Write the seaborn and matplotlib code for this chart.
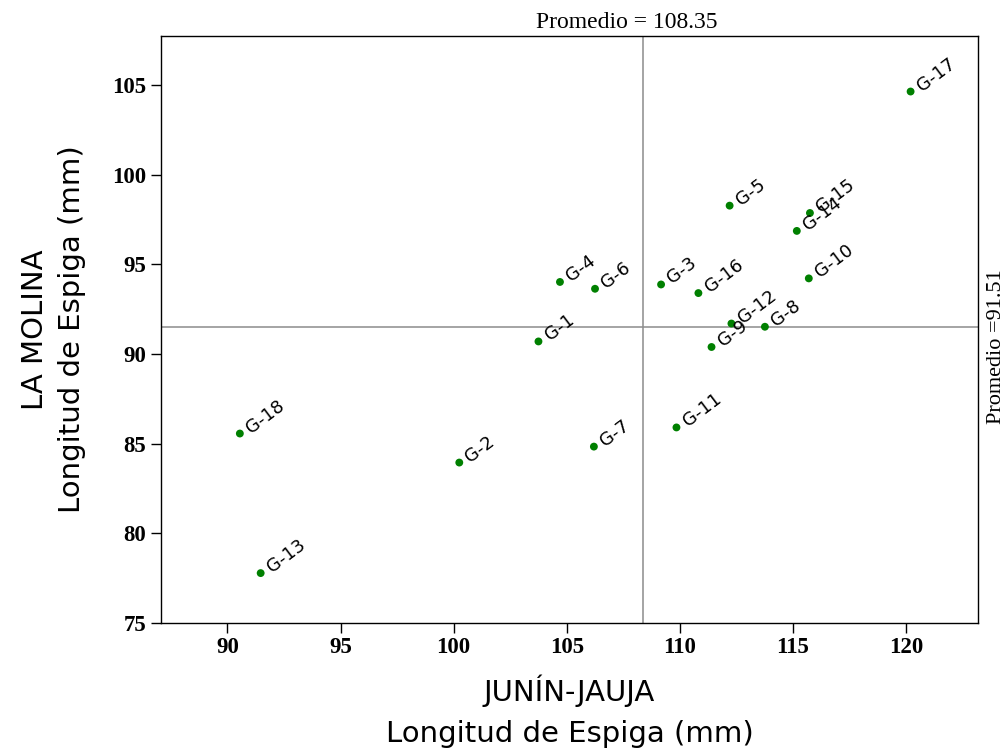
import matplotlib
matplotlib.use("Agg")
import matplotlib.pyplot as plt
import seaborn as sns
import pandas as pd

# Genotype spike length (mm) in two locations
genotipos = ["G-1", "G-2", "G-3", "G-4", "G-5", "G-6", "G-7", "G-8", "G-9",
             "G-10", "G-11", "G-12", "G-13", "G-14", "G-15", "G-16", "G-17", "G-18"]
junin_jauja = [103.75, 100.25, 109.17, 104.70, 112.20, 106.25, 106.20, 113.76, 111.40,
               115.70, 109.85, 112.28, 91.47, 115.17, 115.75, 110.82, 120.20, 90.55]
la_molina = [90.70, 83.94, 93.88, 94.02, 98.28, 93.64, 84.83, 91.52, 90.39,
             94.22, 85.90, 91.70, 77.77, 96.87, 97.87, 93.40, 104.65, 85.56]

promedio_x = 108.35
promedio_y = 91.51

x_ticks = [90, 95, 100, 105, 110, 115, 120]
y_ticks = [75, 80, 85, 90, 95, 100, 105]

df = pd.DataFrame({"gen": genotipos, "x": junin_jauja, "y": la_molina})

sns.set_theme(style="ticks")
plt.rcParams["font.family"] = ["DejaVu Sans"]

fig = plt.figure(figsize=(10.08, 7.56), dpi=100)
ax = fig.add_axes([0.1594, 0.1763, 0.9707 - 0.1594, 0.9524 - 0.1763])

sns.scatterplot(data=df, x="x", y="y", ax=ax, color="#008000", s=32,
                edgecolor="none", zorder=3, legend=False)

for g, xv, yv in zip(df["gen"], df["x"], df["y"]):
    ax.annotate(g, (xv, yv), xytext=(8, 0), textcoords="offset points",
                rotation=37, rotation_mode="anchor", ha="left", va="baseline",
                fontsize=13, color="black", family="DejaVu Sans")

ax.axvline(promedio_x, color="#8c8c8c", lw=1.1, zorder=1)
ax.axhline(promedio_y, color="#8c8c8c", lw=1.1, zorder=1)

ax.set_xlim(87.05, 123.2)
ax.set_ylim(75, 107.75)
ax.set_xticks(x_ticks)
ax.set_yticks(y_ticks)

serif = ["Liberation Serif", "DejaVu Serif"]
ax.set_xticklabels([str(t) for t in x_ticks], family=serif, fontweight="bold", fontsize=16.5)
ax.set_yticklabels([str(t) for t in y_ticks], family=serif, fontweight="bold", fontsize=16.5)
ax.tick_params(axis="both", direction="out", length=7.5, width=1, color="black",
               labelcolor="black", pad=3)

for sp in ax.spines.values():
    sp.set_color("black")
    sp.set_linewidth(1)

ax.set_xlabel("JUNÍN-JAUJA\nLongitud de Espiga (mm)", fontsize=21, labelpad=12,
              linespacing=1.55, color="black")
ax.set_ylabel("LA MOLINA\nLongitud de Espiga (mm)", fontsize=21, labelpad=19,
              linespacing=1.4, color="black")

ax.annotate(f"Promedio = {promedio_x:.2f}", (promedio_x, 1.0), xycoords=ax.get_xaxis_transform(),
            xytext=(-11, 2), textcoords="offset points",
            ha="center", va="bottom", family=serif, fontsize=17, color="black")
ax.annotate(f"Promedio ={promedio_y:.2f}", (1.0, promedio_y), xycoords=ax.get_yaxis_transform(),
            xytext=(6, -14), textcoords="offset points",
            ha="left", va="center", rotation=90, family=serif, fontsize=16, color="black")

fig.savefig("out.png", dpi=100, facecolor="white")
